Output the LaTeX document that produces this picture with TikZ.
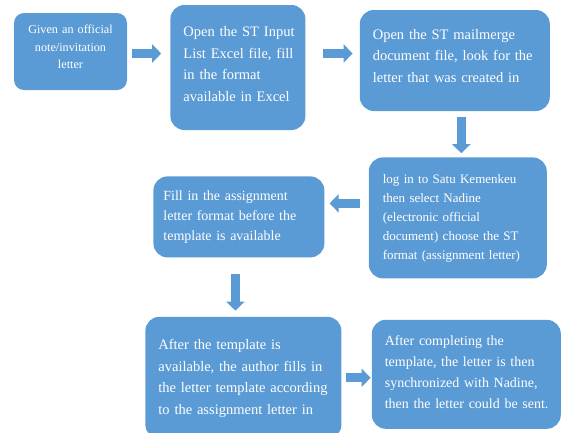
\documentclass[tikz,border=0pt]{standalone}
\usepackage{fontspec}
\setmainfont{Liberation Serif}
\usepackage{xcolor}
\usetikzlibrary{positioning, arrows.meta}
\definecolor{boxblue}{RGB}{91,155,213}
\newcommand{\boxlines}[2][l]{\begin{tabular}{@{}#1@{}}#2\end{tabular}}
\tikzstyle{box} = [rectangle, rounded corners=14pt, fill=boxblue, text=white, align=left, inner xsep=0pt, inner ysep=0pt, font=\fontsize{14.5}{21.5}\selectfont]
\tikzstyle{flow} = [boxblue, line width=9pt, -{Triangle[width=18pt, length=9pt]}]

\begin{document}
\begin{tikzpicture}[x=1pt, y=-1pt]
	\useasboundingbox (0,0) rectangle (561,432);
	\clip (0,0) rectangle (561,432);
	
	% first row
	\node[box, rounded corners=10pt, align=center, minimum width=113pt, minimum height=77pt, text width=105pt, font=\fontsize{12.2}{17.5}\selectfont] (letter) at (70.5,51.5) {\boxlines[c]{Given an official\\note/invitation\\letter\\[8pt]}};
	\node[box, right=43pt of letter, yshift=-16pt, minimum width=135pt, minimum height=125pt, text width=109pt] (excel) {\boxlines{Open the ST Input\\List Excel file, fill\\in the format\\available in Excel\\[6pt]}};
	\node[box, right=54pt of excel, yshift=7pt, minimum width=190pt, minimum height=101pt, text width=164pt] (mailmerge) {\boxlines{Open the ST mailmerge\\document file, look for the\\letter that was created in\\[8pt]}};
	
	% second row
	\node[box, below=46pt of mailmerge, xshift=3pt, minimum width=178pt, minimum height=121pt, text width=150pt, font=\fontsize{13}{19}\selectfont] (nadine) {\boxlines{log in to Satu Kemenkeu\\then select Nadine\\(electronic official\\document) choose the ST\\format (assignment letter)}};
	\node[box, left=44pt of nadine, yshift=1pt, minimum width=171pt, minimum height=81pt, text width=151pt, font=\fontsize{14}{20}\selectfont] (format) {\boxlines{Fill in the assignment\\letter format before the\\template is available}};
	
	% third row
	\node[box, below=59pt of format, xshift=4.5pt, minimum width=196pt, minimum height=122pt, text width=170pt] (template) {\boxlines{After the template is\\available, the author fills in\\the letter template according\\to the assignment letter in}};
	\node[box, right=30pt of template, yshift=3.5pt, minimum width=189pt, minimum height=109pt, text width=163pt, font=\fontsize{14}{21}\selectfont] (sync) {\boxlines{After completing the\\template, the letter is then\\synchronized with Nadine,\\then the letter could be sent.\\[4pt]}};
	
	% connections
	\draw[flow, shorten <=5pt, shorten >=9pt] ([yshift=-2pt]letter.east) -- ([yshift=-2pt]letter.east -| excel.west);
	\draw[flow, shorten <=17pt, shorten >=7pt] ([yshift=14pt]excel.east) -- ([yshift=7pt]mailmerge.west);
	\draw[flow, shorten <=6pt, shorten >=4pt] ([xshift=6.5pt]mailmerge.south) -- ([xshift=3.5pt]nadine.north);
	\draw[flow, shorten <=9pt, shorten >=5pt] ([yshift=14.5pt]nadine.west) -- ([yshift=13.5pt]format.east);
	\draw[flow, shorten <=16pt, shorten >=6pt] ([xshift=-3.5pt]format.south) -- ([xshift=-8pt]template.north);
	\draw[flow, shorten <=4pt, shorten >=1pt] (template.east) -- ([yshift=-3.5pt]sync.west);
	
\end{tikzpicture}
\end{document}
